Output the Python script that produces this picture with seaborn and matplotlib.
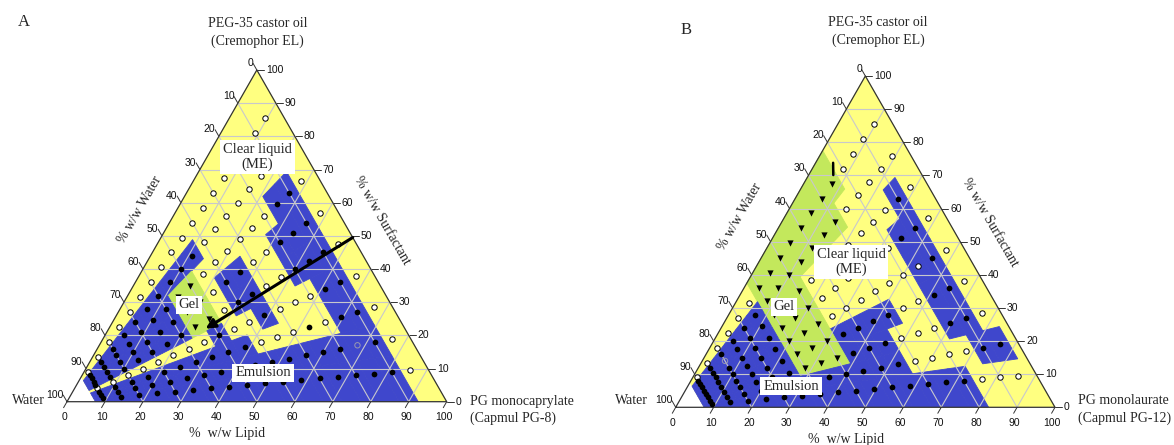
import numpy as np
import pandas as pd
import matplotlib
matplotlib.use("Agg")
import matplotlib.pyplot as plt
from matplotlib.patches import Polygon
import seaborn as sns

W_PX, H_PX = 1174, 445
SQ = np.sqrt(3) / 2

YELLOW = "#ffff80"
BLUE = "#3f47cc"
GREEN = "#c3e85c"
GRID = "#c8c8cc"

# surfactant fraction of (surfactant + lipid) on each dilution line
ratios = [0.9, 0.8, 0.7, 0.6, 0.5, 0.4, 0.3, 0.2, 0.1]
# % water along each line
water = [5, 10, 15, 20, 25, 30, 35, 40, 45, 50, 55, 60, 65, 70, 75, 80, 85, 90]

# one string per ratio, one letter per water level
# C clear liquid, E emulsion, G gel, d emulsion dot inside clear region,
# o clear circle inside emulsion region, f faint circle inside emulsion region
phase_A = [
    "CCCCCCCCCCCCCCCCCC",  # 0.9
    "CCCCCCCCEEEEEEEEEE",  # 0.8
    "CEECCCCCCGGEEEEEEE",  # 0.7
    "CEEECCEECGGEEEEEEE",  # 0.6
    "CEEECCEECGGEEEEEEE",  # 0.5
    "CEECCCECCECCCCCCCC",  # 0.4
    "CEECdCCCEEEEEEEEEE",  # 0.3
    "CEfEEEEEEEEEEEEEEE",  # 0.2
    "CEEEEEEEEEEEEEEEEE",  # 0.1
]
phase_B = [
    "CCCCGGGGGGGGCCCCCC",  # 0.9
    "CCCCCGGGGGGGEEEEEE",  # 0.8
    "CECCCCCCCGGGEEEfEE",  # 0.7
    "CEECCCCCCGGGEEEEEE",  # 0.6
    "CEoCCCCCCGGGEEEEEE",  # 0.5
    "CEECCEEEEGGGEEEEEE",  # 0.4
    "CEECCCEEEGGGEEEEEE",  # 0.3
    "EECCCCEEEEEEEEEEEE",  # 0.2
    "CCCEEEEEEEEEEEEEEE",  # 0.1
]

ticks = [0, 10, 20, 30, 40, 50, 60, 70, 80, 90, 100]

fill_of = {"C": None, "E": BLUE, "G": GREEN, "d": None, "o": BLUE, "f": BLUE}
kind_of = {"C": "open", "E": "dot", "G": "tri", "d": "dot", "o": "open", "f": "faint"}


def tern(L, S):
    L = np.asarray(L, dtype=float)
    S = np.asarray(S, dtype=float)
    return L + S / 2, S * SQ


def cell(r, w):
    r_lo = 0.0 if r == min(ratios) else r - 0.05
    r_hi = 1.0 if r == max(ratios) else r + 0.05
    pts = []
    for rr, ww in [(r_lo, w - 2.5), (r_hi, w - 2.5), (r_hi, w + 2.5), (r_lo, w + 2.5)]:
        m = 100 - ww
        pts.append(tern((1 - rr) * m, rr * m))
    return pts


rows = []
for panel, grid in (("A", phase_A), ("B", phase_B)):
    for r, line in zip(ratios, grid):
        for w, code in zip(water, line):
            rows.append(dict(panel=panel, ratio=r, water=w, code=code))
df = pd.DataFrame(rows)
df["surf"] = df["ratio"] * (100 - df["water"])
df["lipid"] = (1 - df["ratio"]) * (100 - df["water"])
df["x"], df["y"] = tern(df["lipid"], df["surf"])
df["kind"] = df["code"].map(kind_of)

sns.set_style("white")
plt.rcParams["font.family"] = ["Liberation Serif", "DejaVu Serif"]

fig = plt.figure(figsize=(W_PX / 100, H_PX / 100), dpi=100)


def figtext(px, py, s, **kw):
    fig.text(px / W_PX, 1 - py / H_PX, s, **kw)


layout = {
    "A": dict(box=(67.0, 401.7, 379.7, 331.7), letter=(24, 22), top=(257.5, 23.3),
              water=(45, 401), lipid_name=("PG monocaprylate", "(Capmul PG-8)"),
              lipid_pos=(470, 401), t_water=(140, 210), t_surf=(382, 220), t_lipid=(226.7, 433),
              me=(257.5, 157), gel=(189, 305), emul=(263, 373)),
    "B": dict(box=(675.7, 407.3, 379.3, 331.3), letter=(686, 30), top=(878, 23),
              water=(648, 401), lipid_name=("PG monolaurate", "(Capmul PG-12)"),
              lipid_pos=(1078, 401), t_water=(740, 217), t_surf=(990, 222), t_lipid=(846, 439),
              me=(851, 262), gel=(784, 307), emul=(791, 386)),
}

tick_font = dict(family=["Liberation Sans", "DejaVu Sans"], fontsize=7.5, color="#111111")
box_kw = dict(boxstyle="square,pad=0.2", fc="white", ec="none")

for panel in ("A", "B"):
    lay = layout[panel]
    left, base, wid, hei = lay["box"]
    ax = fig.add_axes([left / W_PX, (H_PX - base) / H_PX, wid / W_PX, hei / H_PX])
    ax.set_xlim(0, 100)
    ax.set_ylim(0, 100 * SQ)
    ax.axis("off")

    # clear-liquid background (corner beyond the last water level stays white)
    bx, by = tern([100, 0, 0, 7.5], [0, 100, 7.5, 0])
    ax.add_patch(Polygon(np.column_stack([bx, by]), closed=True, fc=YELLOW, ec=YELLOW,
                         lw=0.5, zorder=1))

    sub = df[df["panel"] == panel]
    for _, p in sub.iterrows():
        fc = fill_of[p["code"]]
        if fc is None:
            continue
        pts = np.array([[a, b] for a, b in cell(p["ratio"], p["water"])])
        ax.add_patch(Polygon(pts, closed=True, fc=fc, ec=fc, lw=0.6, zorder=2))

    # grid
    for k in ticks[1:-1]:
        for L0, S0, L1, S1 in [(0, k, 100 - k, k), (k, 0, k, 100 - k), (100 - k, 0, 0, 100 - k)]:
            gx, gy = tern([L0, L1], [S0, S1])
            ax.plot(gx, gy, color=GRID, lw=0.8, zorder=3)
    ox, oy = tern([0, 100, 0, 0], [0, 0, 100, 0])
    ax.plot(ox, oy, color="#333333", lw=0.9, zorder=4, clip_on=False)

    # ticks and tick labels
    for t in ticks:
        # water on left side
        px, py = tern(0, 100 - t)
        ax.plot([px, px - 1.0], [py, py + 1.73], color="#333333", lw=0.7, clip_on=False)
        ax.annotate(str(t), (px, py), xytext=(-2.5, 5), textcoords="offset points",
                    ha="right", va="center", **tick_font)
        # surfactant on right side
        px, py = tern(100 - t, t)
        ax.plot([px, px + 1.8], [py, py], color="#333333", lw=0.7, clip_on=False)
        ax.annotate(str(t), (px, py), xytext=(6.5, 0), textcoords="offset points",
                    ha="left", va="center", **tick_font)
        # lipid on base
        px, py = tern(t, 0)
        ax.plot([px, px - 0.9], [py, py - 1.56], color="#333333", lw=0.7, clip_on=False)
        ax.annotate(str(t), (px, py), xytext=(-2, -11), textcoords="offset points",
                    ha="center", va="center", **tick_font)

    # composition markers
    sns.scatterplot(data=sub[sub["kind"] == "open"], x="x", y="y", marker="o", s=15,
                    color="white", edgecolor="black", linewidth=0.7, ax=ax, zorder=5,
                    legend=False)
    sns.scatterplot(data=sub[sub["kind"] == "faint"], x="x", y="y", marker="o", s=15,
                    color="none", edgecolor="#9a9ab0", linewidth=0.7, ax=ax, zorder=5,
                    legend=False)
    sns.scatterplot(data=sub[sub["kind"] == "dot"], x="x", y="y", marker="o", s=17,
                    color="black", linewidth=0, ax=ax, zorder=5, legend=False)
    sns.scatterplot(data=sub[sub["kind"] == "tri"], x="x", y="y", marker="v", s=20,
                    color="black", linewidth=0, ax=ax, zorder=5, legend=False)
    ax.set_xlim(0, 100)
    ax.set_ylim(0, 100 * SQ)
    ax.axis("off")

    if panel == "A":
        s0 = tern(50.5, 49.5)
        s1 = tern(25.5, 22)
        ax.annotate("", xy=(float(s1[0]), float(s1[1])), xytext=(float(s0[0]), float(s0[1])),
                    arrowprops=dict(arrowstyle="-|>", lw=2.2, color="black",
                                    mutation_scale=14, shrinkA=0, shrinkB=0), zorder=8)
    else:
        mx, my = tern([6.5, 4.6], [70.1, 73.8])
        ax.plot(mx, my, color="black", lw=1.8, zorder=6)

    # region names
    for key, s in (("me", "Clear liquid\n(ME)"), ("gel", "Gel"), ("emul", "Emulsion")):
        px, py = lay[key]
        figtext(px, py, s, ha="center", va="center", fontsize=10.5, linespacing=1.15,
                bbox=box_kw, zorder=7)

    # corner and axis names
    figtext(*lay["letter"], panel, ha="center", va="center", fontsize=12)
    tx, ty = lay["top"]
    figtext(tx, ty, "PEG-35 castor oil", ha="center", va="center", fontsize=10)
    figtext(tx, ty + 17.5, "(Cremophor EL)", ha="center", va="center", fontsize=10)
    figtext(*lay["water"], "Water", ha="right", va="center", fontsize=10)
    lx, ly = lay["lipid_pos"]
    figtext(lx, ly, lay["lipid_name"][0], ha="left", va="center", fontsize=10)
    figtext(lx, ly + 17, lay["lipid_name"][1], ha="left", va="center", fontsize=10)
    figtext(*lay["t_water"], "% w/w Water", ha="center", va="center", fontsize=10, rotation=60)
    figtext(*lay["t_surf"], "% w/w Surfactant", ha="center", va="center", fontsize=10,
            rotation=-60)
    figtext(*lay["t_lipid"], "%  w/w Lipid", ha="center", va="center", fontsize=10)

fig.savefig("out.png", dpi=100)
